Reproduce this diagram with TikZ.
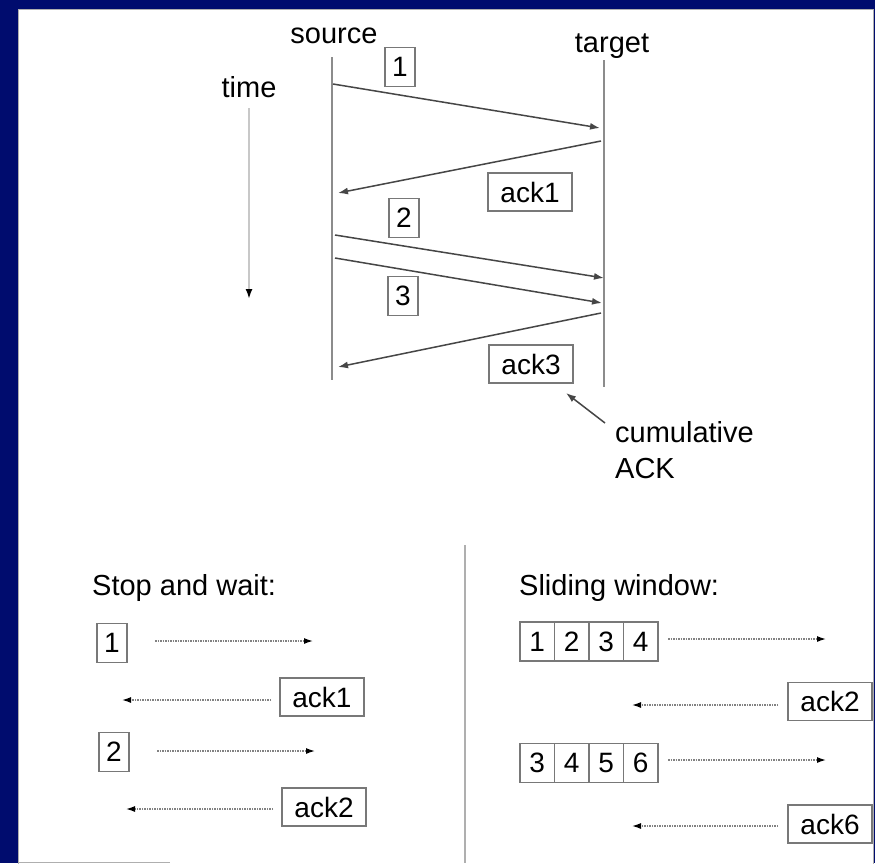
\documentclass[tikz,border=0pt]{standalone}
\usepackage{fontspec}
\setmainfont{Liberation Sans}
\usetikzlibrary{arrows.meta}
\definecolor{slideblue}{RGB}{0,12,110}
\definecolor{framegray}{RGB}{175,175,175}
\definecolor{lifegray}{RGB}{140,140,140}
\definecolor{msggray}{RGB}{70,70,70}
\definecolor{boxgray}{RGB}{120,120,120}
\definecolor{dotgray}{RGB}{130,130,130}
\definecolor{timegray}{RGB}{200,200,200}
\begin{document}
\begin{tikzpicture}[x=1pt,y=-1pt,
  lbl/.style={font=\fontsize{29}{34}\selectfont, inner sep=0pt},
  box/.style={draw=boxgray, line width=1.4pt, fill=white, inner sep=0pt,
    font=\fontsize{28}{34}\selectfont},
  numbox/.style={box, minimum width=30pt, minimum height=39pt},
  ackbox/.style={box, minimum width=84pt, minimum height=38pt},
  cell/.style={box, minimum width=34.5pt, minimum height=39pt},
  lifeline/.style={draw=lifegray, line width=2pt},
  msg/.style={draw=msggray, line width=1.5pt,
    -{Latex[length=10pt,width=7pt]}},
  dotmsg/.style={draw=dotgray, line width=1.3pt, dash pattern=on 1.5pt off 1pt,
    -{Latex[length=9pt,width=6pt,color=black]}},
  tip/.style={-{Latex[length=10pt,width=7pt,color=black]}}
]
\useasboundingbox (0,0) rectangle (875,863);
% slide background and white panel
\fill[slideblue] (0,0) rectangle (875,863);
\filldraw[fill=white, draw=framegray, line width=1pt] (18,9) rectangle (873,875);
\draw[framegray, line width=1pt] (18,862) -- (170,862);

% ---------- sequence diagram ----------
\node[lbl, anchor=base] (srclbl) at (334,43) {source};
\node[lbl, anchor=base] (tgtlbl) at (612,52) {target};
\node[lbl, anchor=base] (timelbl) at (249,97) {time};

\coordinate (timetop) at (249,108);
\coordinate (timebot) at (249,299);
\draw[timegray, line width=2.5pt, tip] (timetop) -- (timebot);

\coordinate (srctop) at (332,57);
\coordinate (srcbot) at (332,380);
\coordinate (tgttop) at (604,60);
\coordinate (tgtbot) at (604,387);
\draw[lifeline] (srctop) -- (srcbot);
\draw[lifeline] (tgttop) -- (tgtbot);

% messages
\coordinate (m1a) at (333,84);  \coordinate (m1b) at (600,128);
\coordinate (a1a) at (601,141); \coordinate (a1b) at (338,193);
\coordinate (m2a) at (335,235); \coordinate (m2b) at (604,278);
\coordinate (m3a) at (335,258); \coordinate (m3b) at (602,303);
\coordinate (a3a) at (601,313); \coordinate (a3b) at (338,367);
\draw[msg] (m1a) -- (m1b);
\draw[msg] (a1a) -- (a1b);
\draw[msg] (m2a) -- (m2b);
\draw[msg] (m3a) -- (m3b);
\draw[msg] (a3a) -- (a3b);

\node[numbox] (p1) at (400,67) {1};
\node[ackbox] (ack1) at (530,192) {ack1};
\node[numbox] (p2) at (404,218) {2};
\node[numbox] (p3) at (403,296) {3};
\node[ackbox] (ack3) at (531,364) {ack3};

% cumulative ACK note
\node[lbl, anchor=base west] (cum) at (615,442) {cumulative};
\node[lbl, anchor=base west] (ackword) at (615,478) {ACK};
\coordinate (cumfrom) at (605,423);
\coordinate (cumto) at (566,393);
\draw[msg] (cumfrom) -- (cumto);

% divider
\coordinate (divtop) at (465,545);
\coordinate (divbot) at (465,863);
\draw[framegray, line width=2pt] (divtop) -- (divbot);

% ---------- stop and wait ----------
\node[lbl, anchor=base west] (swtitle) at (92,595) {Stop and wait:};
\node[numbox] (sw1) at (112,643) {1};
\node[ackbox] (swack1) at (322,697) {ack1};
\node[numbox] (sw2) at (114,752) {2};
\node[ackbox] (swack2) at (324,807) {ack2};

\coordinate (sw1a) at (155,641);  \coordinate (sw1b) at (313,641);
\coordinate (swk1a) at (271,700); \coordinate (swk1b) at (122,700);
\coordinate (sw2a) at (157,751);  \coordinate (sw2b) at (315,751);
\coordinate (swk2a) at (273,809); \coordinate (swk2b) at (126,809);
\draw[dotmsg] (sw1a) -- (sw1b);
\draw[dotmsg] (swk1a) -- (swk1b);
\draw[dotmsg] (sw2a) -- (sw2b);
\draw[dotmsg] (swk2a) -- (swk2b);

% ---------- sliding window ----------
\node[lbl, anchor=base west] (slidetitle) at (519,595) {Sliding window:};
\foreach \n/\v [count=\i from 0] in {wa/1,wb/2,wc/3,wd/4}
  \node[cell] (\n) at (537.25+34.5*\i,641.5) {\v};
\foreach \n/\v [count=\i from 0] in {we/3,wf/4,wg/5,wh/6}
  \node[cell] (\n) at (537.25+34.5*\i,763) {\v};
\node[ackbox] (slack2) at (830,701.5) {ack2};
\node[ackbox] (slack6) at (830,824) {ack6};

\coordinate (sl1a) at (668,639);  \coordinate (sl1b) at (826,639);
\coordinate (slk2a) at (778,705); \coordinate (slk2b) at (632,705);
\coordinate (sl2a) at (668,760);  \coordinate (sl2b) at (826,760);
\coordinate (slk6a) at (778,826); \coordinate (slk6b) at (632,826);
\draw[dotmsg] (sl1a) -- (sl1b);
\draw[dotmsg] (slk2a) -- (slk2b);
\draw[dotmsg] (sl2a) -- (sl2b);
\draw[dotmsg] (slk6a) -- (slk6b);
\end{tikzpicture}
\end{document}
